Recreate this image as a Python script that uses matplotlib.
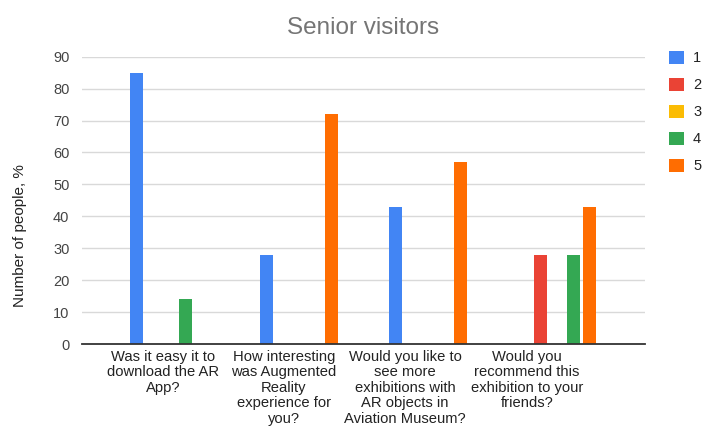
import numpy as np
import matplotlib.pyplot as plt

plt.rcParams["font.family"] = ["Liberation Sans", "DejaVu Sans"]

questions = [
    "Was it easy it to\ndownload the AR\nApp?",
    "How interesting\nwas Augmented\nReality\nexperience for\nyou?",
    "Would you like to\nsee more\nexhibitions with\nAR objects in\nAviation Museum?",
    "Would you\nrecommend this\nexhibition to your\nfriends?",
]
answers = ["1", "2", "3", "4", "5"]
score_1 = [85, 28, 43, 0]
score_2 = [0, 0, 0, 28]
score_3 = [0, 0, 0, 0]
score_4 = [14, 0, 0, 28]
score_5 = [0, 72, 57, 43]
colors = ["#4285F4", "#EA4335", "#FBBC04", "#34A853", "#FF6D01"]

series = [score_1, score_2, score_3, score_4, score_5]

fig = plt.figure(figsize=(7.02, 4.29), dpi=100)
ax = fig.add_axes([0.1168, 0.1981, 0.8020, 0.6697])

x = np.arange(len(questions))
slot = 0.126
handles = []
for i, (vals, c) in enumerate(zip(series, colors)):
    b = ax.bar(x + (i - 2) * slot, vals, width=0.1, color=c, label=answers[i], zorder=3)
    handles.append(b)

ax.set_xlim(-0.677, 3.68)
ax.set_ylim(0, 90)
ax.set_yticks(range(0, 91, 10))
ax.grid(axis="y", color="#d9d9d9", linewidth=1, zorder=0)
ax.tick_params(axis="y", length=0, labelsize=10.5, labelcolor="#444444", pad=9)
ax.tick_params(axis="x", length=0, pad=4)
for s in ["top", "right", "left"]:
    ax.spines[s].set_visible(False)
ax.spines["bottom"].set_color("#333333")
ax.spines["bottom"].set_linewidth(1.3)
ax.spines["bottom"].set_zorder(4)

# tick labels sit a little left of the group centres
label_pos = [-0.05, 0.886, 1.823, 2.767]
ax.set_xticks(label_pos)
ax.set_xticklabels(questions, fontsize=10.6, color="#222222", linespacing=1.14, va="top")

ax.set_ylabel("Number of people, %", fontsize=11, color="#222222")
ax.yaxis.set_label_coords(-0.097, 0.376)
ax.set_title("Senior visitors", fontsize=17.5, color="#757575", pad=16)

leg = fig.legend(handles=handles, labels=answers, loc="upper left",
                 bbox_to_anchor=(0.953, 0.882), frameon=False,
                 handlelength=1.05, handleheight=1.05, handletextpad=0.6,
                 labelspacing=0.84, fontsize=10.5, borderaxespad=0, borderpad=0)
for t in leg.get_texts():
    t.set_color("#222222")

fig.savefig("out.png", dpi=100)
